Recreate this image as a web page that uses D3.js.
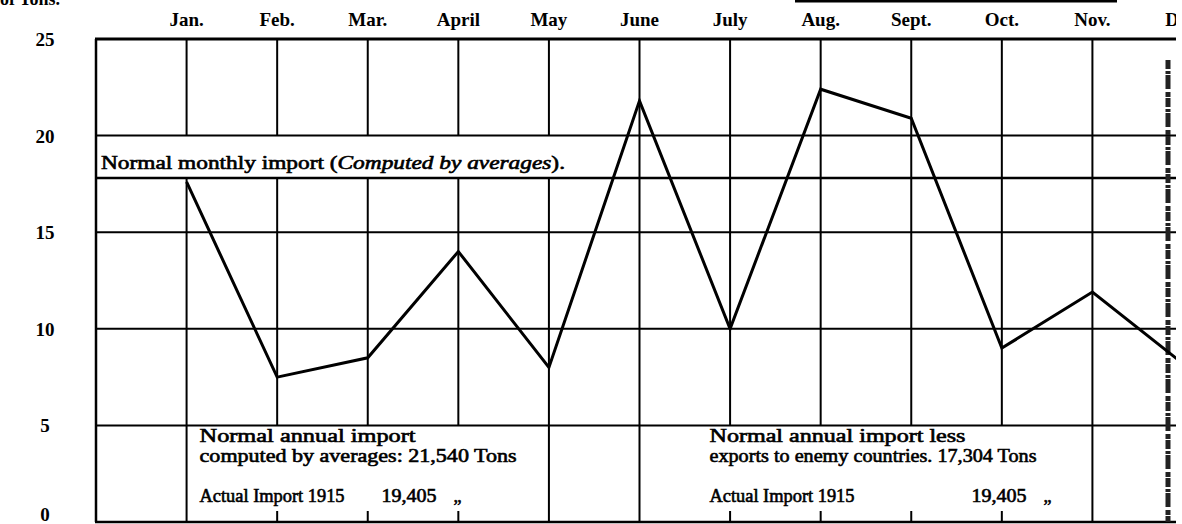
<!DOCTYPE html>
<html>
<head>
<meta charset="utf-8">
<script src="https://cdn.jsdelivr.net/npm/d3@7"></script>
<style>
  body { margin: 0; background: #fff; }
  svg { display: block; }
  text { font-family: "Liberation Serif", "DejaVu Serif", serif; fill: #000; }
</style>
</head>
<body>
<svg id="chart" width="1182" height="524"></svg>
<script>
// monthly import 1915, hundreds of tons
const months = ["Jan.", "Feb.", "Mar.", "April", "May", "June", "July", "Aug.", "Sept.", "Oct.", "Nov.", "Dec."];
const imports = [17.6, 7.5, 8.5, 14.0, 8.0, 21.8, 10.0, 22.4, 20.9, 9.0, 11.9, 8.2];
const yTicks = [0, 5, 10, 15, 20, 25];
const normalMonthly = 17.8;
const normalLabel = ["Normal monthly import (", "Computed by averages", ")."];
// text boxes at the bottom, from month index to month index
const boxFrom = [0, 5];
const boxTo = [4, 10];
const boxLine1 = ["Normal annual import", "Normal annual import less"];
const boxLine2 = ["computed by averages: 21,540 Tons", "exports to enemy countries. 17,304 Tons"];
const boxActual = ["Actual Import 1915", "Actual Import 1915"];
const boxActualValue = ["19,405", "19,405"];

const W = 1182, H = 524, clipRight = 1176;
const svg = d3.select("#chart");
svg.append("defs").append("clipPath").attr("id", "clip")
  .append("rect").attr("x", 0).attr("y", 0).attr("width", clipRight).attr("height", H);
const g = svg.append("g").attr("clip-path", "url(#clip)");

// x: month index, -1 is the left border
const x = d3.scaleLinear().domain([-1, 11]).range([96, 1183]);
const y = d3.scaleLinear().domain([0, 25]).range([522, 39]);
const left = x(-1), right = clipRight;

// horizontal rules
g.selectAll(".hrule").data(yTicks.filter(d => d > 0 && d < 25)).enter()
  .append("line").attr("class", "hrule")
  .attr("x1", left).attr("x2", right)
  .attr("y1", d => y(d)).attr("y2", d => y(d))
  .attr("stroke", "#000").attr("stroke-width", 2);
g.append("line").attr("x1", left).attr("x2", right)
  .attr("y1", y(normalMonthly)).attr("y2", y(normalMonthly))
  .attr("stroke", "#000").attr("stroke-width", 2.5);
// top and bottom frame
g.append("line").attr("x1", left - 1).attr("x2", right).attr("y1", y(25)).attr("y2", y(25))
  .attr("stroke", "#000").attr("stroke-width", 3);
g.append("line").attr("x1", left - 1).attr("x2", right).attr("y1", y(0)).attr("y2", y(0))
  .attr("stroke", "#000").attr("stroke-width", 2.5);
g.append("line").attr("x1", left).attr("x2", left).attr("y1", y(25)).attr("y2", y(0))
  .attr("stroke", "#000").attr("stroke-width", 2.5);

// vertical month rules, broken where the boxes and the label are
const labelEnd = 570;
months.forEach((m, i) => {
  const xi = x(i);
  const inBox = boxFrom.some((b, k) => i > b && i < boxTo[k]);
  const underLabel = xi < labelEnd;
  const segs = [];
  if (underLabel) {
    segs.push([y(25), y(20)]);
    segs.push([y(normalMonthly), inBox ? y(5) : y(0)]);
  } else {
    segs.push([y(25), inBox ? y(5) : y(0)]);
  }
  if (inBox) segs.push([y(0) - 11, y(0)]);
  segs.forEach(s => {
    g.append("line").attr("x1", xi).attr("x2", xi).attr("y1", s[0]).attr("y2", s[1])
      .attr("stroke", "#000").attr("stroke-width", 2);
  });
});

// scanner gutter strip on the right
g.append("line").attr("x1", 1168).attr("x2", 1168).attr("y1", 60).attr("y2", 522)
  .attr("stroke", "#222").attr("stroke-width", 5).attr("stroke-dasharray", "9,2,3,1,14,3,5,1");

// month labels
g.selectAll(".month").data(months).enter()
  .append("text").attr("class", "month")
  .attr("x", (d, i) => x(i)).attr("y", 26)
  .attr("text-anchor", "middle").attr("font-size", 19).attr("font-weight", "bold")
  .text(d => d);

// y labels
g.selectAll(".ylab").data(yTicks).enter()
  .append("text").attr("class", "ylab")
  .attr("x", 45).attr("y", d => Math.min(y(d), 514) + 7)
  .attr("text-anchor", "middle").attr("font-size", 19).attr("font-weight", "bold")
  .text(d => d);
g.append("text").attr("x", 0).attr("y", 5).attr("font-size", 18).attr("font-weight", "bold").text("of Tons.");

// top cut-off title underline
g.append("rect").attr("x", 795).attr("y", 0).attr("width", 322).attr("height", 2.5).attr("fill", "#000");

// normal monthly label
const nl = g.append("text").attr("x", left + 5).attr("y", y(normalMonthly) - 9)
  .attr("font-size", 18).attr("stroke", "#000").attr("stroke-width", 0.6)
  .attr("textLength", labelEnd - left - 10).attr("lengthAdjust", "spacingAndGlyphs");
nl.append("tspan").text(normalLabel[0]);
nl.append("tspan").attr("font-style", "italic").text(normalLabel[1]);
nl.append("tspan").text(normalLabel[2]);

// box texts
const boxText = (str, x0, yb, len) => g.append("text")
  .attr("x", x0).attr("y", yb).attr("font-size", 18)
  .attr("stroke", "#000").attr("stroke-width", 0.6)
  .attr("textLength", len).attr("lengthAdjust", "spacingAndGlyphs").text(str);
boxFrom.forEach((b, k) => {
  const x0 = x(b) + (k === 0 ? 13 : 70);
  boxText(boxLine1[k], x0, y(5) + 17, k === 0 ? 216 : 256);
  boxText(boxLine2[k], x0, y(5) + 37, k === 0 ? 317 : 327);
  boxText(boxActual[k], x0, y(5) + 77, 145);
  const vx = k === 0 ? x0 + 182 : x0 + 262;
  boxText(boxActualValue[k], vx, y(5) + 77, 55);
  boxText("\u201E", vx + 72, y(5) + 77, 8);
});

// import line
const line = d3.line().x((d, i) => x(i)).y(d => y(d));
g.append("path").datum(imports).attr("d", line)
  .attr("fill", "none").attr("stroke", "#000").attr("stroke-width", 3)
  .attr("stroke-linejoin", "miter");
</script>
</body>
</html>
